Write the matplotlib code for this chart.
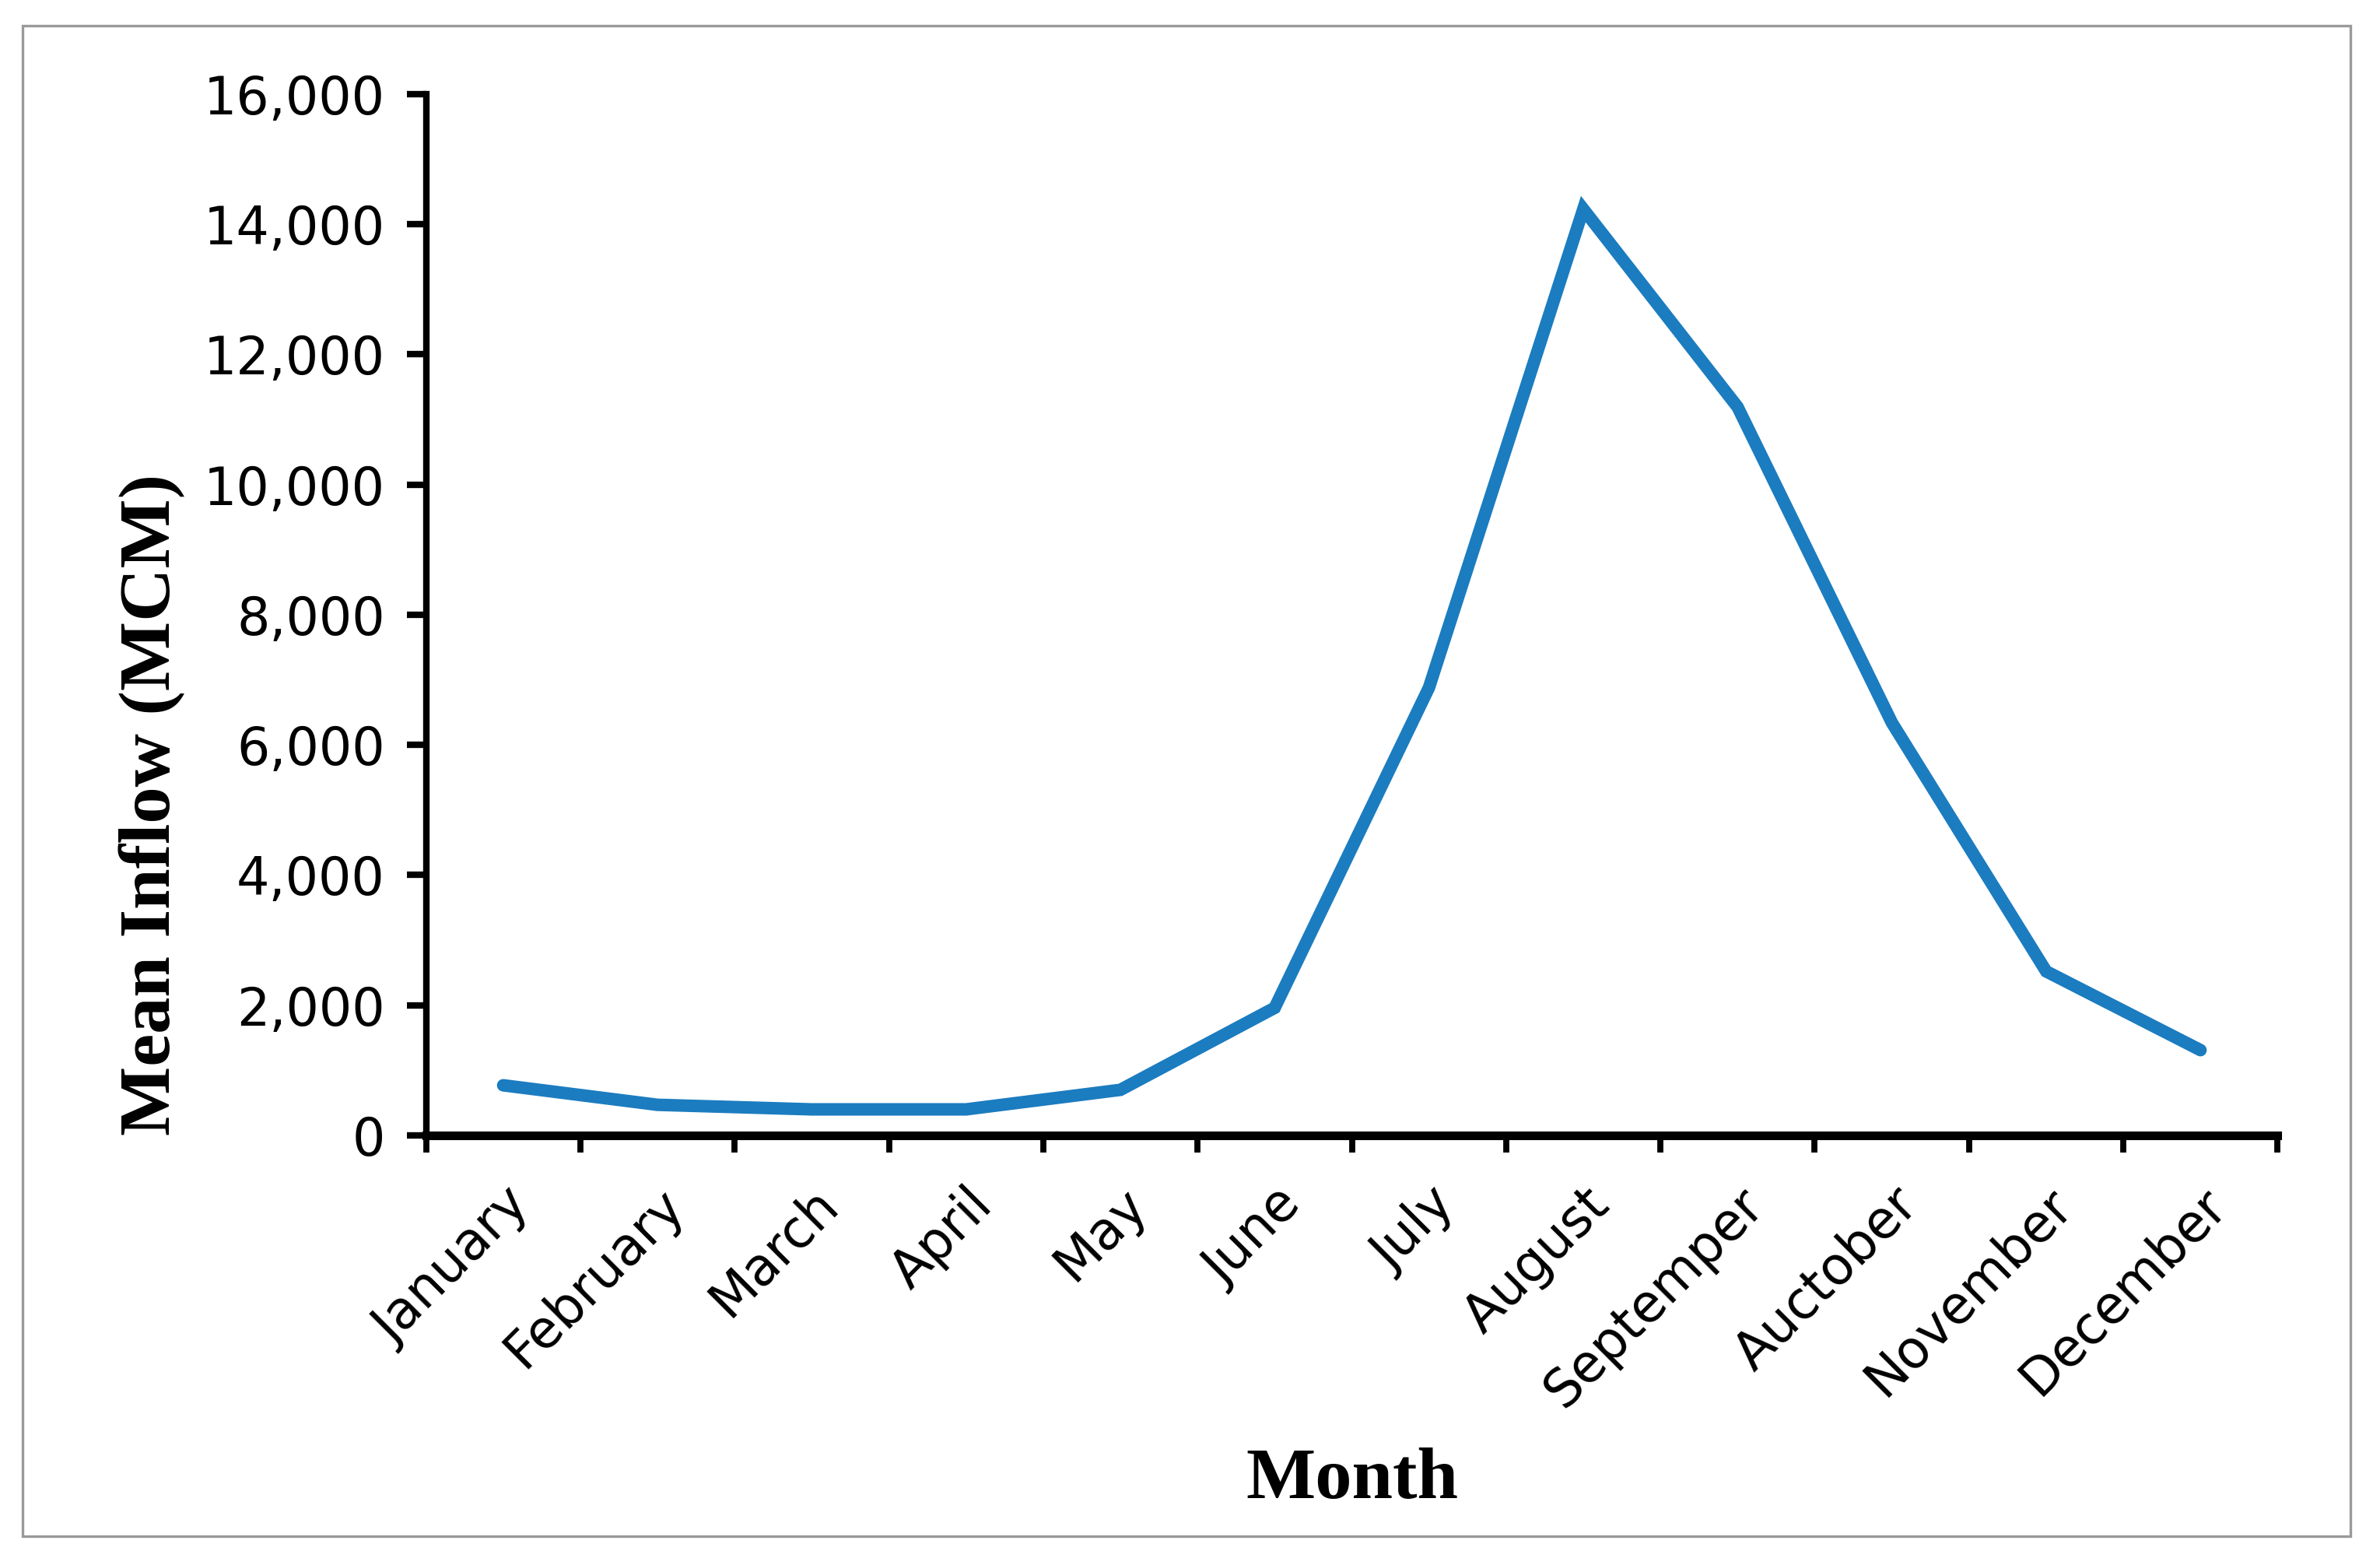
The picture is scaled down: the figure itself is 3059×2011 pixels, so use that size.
import matplotlib
matplotlib.use("Agg")
import matplotlib.pyplot as plt
from matplotlib.patches import Rectangle
from matplotlib.ticker import FuncFormatter, MultipleLocator

# data
months = ["January", "February", "March", "April", "May", "June", "July",
          "August", "Septemper", "Auctober", "November", "December"]
inflow = [770, 470, 400, 400, 700, 1960, 6880, 14230, 11190, 6340, 2520, 1310]

fig = plt.figure(figsize=(15.295, 10.055), dpi=200)

# grey frame around the whole chart
fig.patches.append(Rectangle((0.0095, 0.0184), 0.978, 0.965, transform=fig.transFigure,
                             fill=False, edgecolor="#9a9a9a", linewidth=1.2))

ax = fig.add_axes([0.179, 0.2745, 0.778, 0.6655])
x = range(len(months))
ax.plot(x, inflow, color="#1b7cc0", linewidth=5.8, solid_joinstyle="miter",
        solid_capstyle="round")

ax.set_xlim(-0.5, len(months) - 0.5)
ax.set_ylim(0, 16000)
ax.yaxis.set_major_locator(MultipleLocator(2000))
ax.yaxis.set_major_formatter(FuncFormatter(lambda v, p: f"{int(v):,}"))

# ticks on the category boundaries, labels at the centres
ax.set_xticks([i - 0.5 for i in range(len(months) + 1)])
ax.set_xticklabels([])
ax.set_xticks(list(x), minor=True)
ax.set_xticklabels(months, minor=True, rotation=45, ha="right", rotation_mode="anchor",
                   fontsize=24, family="DejaVu Sans")
ax.tick_params(axis="x", which="minor", length=0, pad=20)
ax.tick_params(axis="x", which="major", length=8, width=2.8, direction="out")
ax.tick_params(axis="y", length=9, width=3.0, direction="out", labelsize=24, pad=10)
for lab in ax.get_yticklabels():
    lab.set_family("DejaVu Sans")

for s in ["top", "right"]:
    ax.spines[s].set_visible(False)
ax.spines["left"].set_linewidth(3.0)
ax.spines["bottom"].set_linewidth(4.0)

fig.text(0.568, 0.054, "Month", ha="center", va="center",
         family="Liberation Serif", weight="bold", fontsize=34)
fig.text(0.064, 0.486, "Mean Inflow (MCM)", ha="center", va="center", rotation=90,
         family="Liberation Serif", weight="bold", fontsize=34)

fig.savefig("out.png", dpi=200, facecolor="white")
